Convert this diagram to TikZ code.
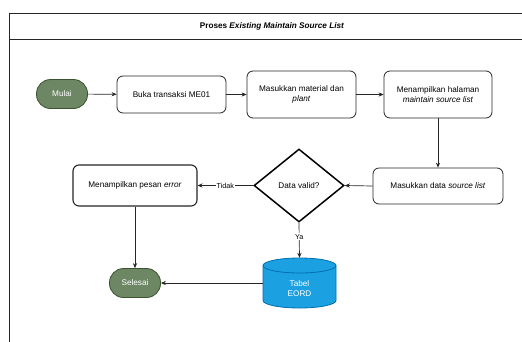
\documentclass[tikz,border=0pt]{standalone}
\usepackage{fontspec}
\setmainfont{Liberation Sans}
\usetikzlibrary{arrows.meta,shapes.geometric}
\definecolor{gfill}{HTML}{6D8764}
\definecolor{gline}{HTML}{3A5431}
\definecolor{cfill}{HTML}{1BA1E2}
\definecolor{cline}{HTML}{006EAF}
\begin{document}
\begin{tikzpicture}[x=1pt,y=-1pt,
  font=\fontsize{8.2}{10}\selectfont,
  proc/.style={draw=black!85,line width=0.8pt,rounded corners=6pt,fill=white,align=center,inner sep=0pt},
  term/.style={draw=gline,line width=0.8pt,fill=gfill,text=white,rounded corners=14pt,inner sep=0pt,minimum width=51pt,minimum height=29pt},
  conn/.style={draw=black!85,line width=0.7pt,-{Stealth[length=5pt,width=4.2pt]}},
  lbl/.style={fill=white,inner sep=1pt,font=\fontsize{7.2}{8}\selectfont}]
\path[use as bounding box] (0,0) rectangle (522,341);
\clip (0,0) rectangle (522,341);
% frame
\draw[black!85,line width=0.8pt] (9,13) rectangle (540,360);
\draw[black!85,line width=0.8pt] (9,39.5) -- (540,39.5);
\node[font=\bfseries\fontsize{8.2}{10}\selectfont] (title) at (272,26.5) {Proses \textit{Existing Maintain Source List}};
% nodes
\node[term] (mulai) at (62,94) {Mulai};
\node[proc,minimum width=109pt,minimum height=37pt] (buka) at (171.5,94.5) {Buka transaksi ME01};
\node[proc,minimum width=109pt,minimum height=47pt] (mat) at (301.5,94.5) {Masukkan material dan\\\textit{plant}};
\node[proc,minimum width=108pt,minimum height=47pt] (hal) at (438,94.5) {Menampilkan halaman\\\textit{maintain source list}};
\node[proc,minimum width=130pt,minimum height=36pt] (data) at (438,186) {Masukkan data \textit{source list}};
\node[draw=black,line width=1.5pt,diamond,aspect=1.23,minimum width=90pt,minimum height=73pt,inner sep=0pt,fill=white] (valid) at (299,185.5) {};
\node at (299,185.5) {Data valid?};
\node[proc,line width=1.1pt,minimum width=124pt,minimum height=41pt] (err) at (135,185.5) {Menampilkan pesan \textit{error}};
\node[term] (selesai) at (135,283) {Selesai};
% cylinder
\node[minimum width=73pt,minimum height=50pt,inner sep=0pt] (tab) at (299.5,283) {};
\fill[cfill,draw=cline,line width=0.8pt]
  (263,265.5) -- (263,300.5) arc[start angle=180,end angle=360,x radius=36.5pt,y radius=7.5pt]
  -- (336,265.5) arc[start angle=0,end angle=180,x radius=36.5pt,y radius=7.5pt] -- cycle;
\draw[cline,line width=0.8pt] (263,265.5) arc[start angle=180,end angle=360,x radius=36.5pt,y radius=7.5pt];
\node[text=white,align=center] at (299.5,288.5) {Tabel\\EORD};
% connectors
\draw[conn] (mulai) -- (buka);
\draw[conn] (buka) -- (mat);
\draw[conn] (mat) -- (hal);
\draw[conn] (hal) -- (data);
\draw[conn] (data.west) -- (valid.east);
\draw[conn] (valid.west) -- node[lbl] {Tidak} (err.east);
\draw[conn] (valid.south) -- node[lbl,pos=0.4] {Ya} (tab.north);
\draw[conn] (err) -- (selesai);
\draw[conn] (tab.west) -- (selesai.east);
\end{tikzpicture}
\end{document}
